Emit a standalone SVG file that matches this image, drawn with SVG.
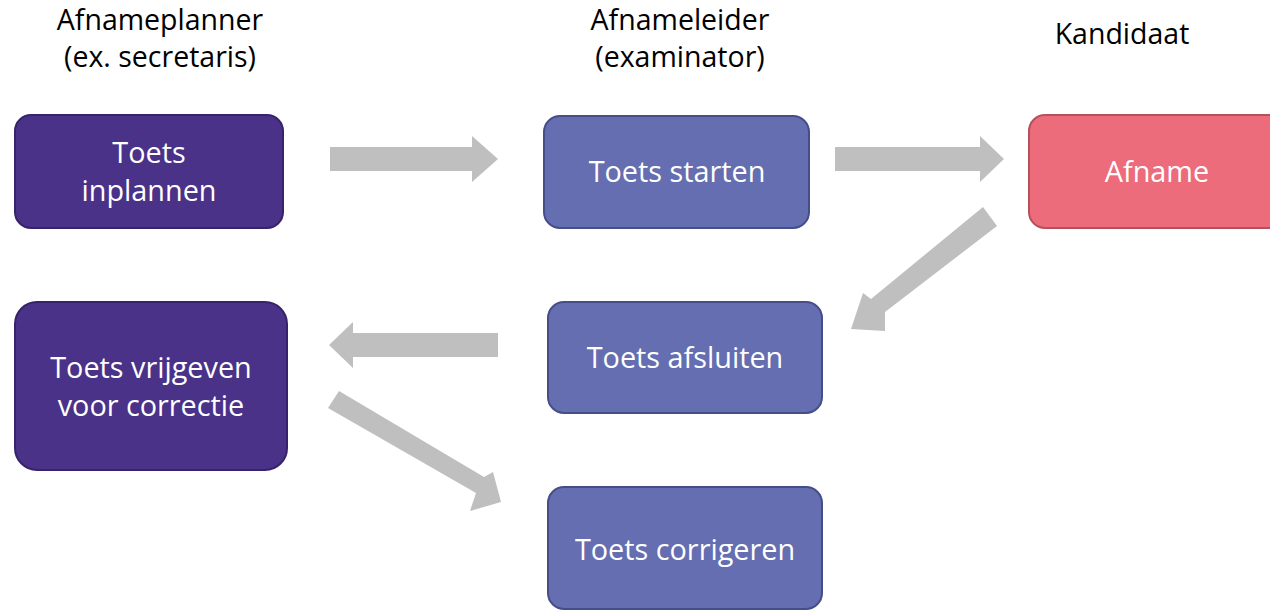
<svg xmlns="http://www.w3.org/2000/svg" width="1270" height="612" viewBox="0 0 1270 612">
<style>
.bg{fill:#ffffff}
.hdr{font-family:"Open Sans","Noto Sans",sans-serif;font-size:28.5px;fill:#000000;text-anchor:middle}
.lbl{font-family:"Open Sans","Noto Sans",sans-serif;font-size:28.8px;fill:#ffffff;text-anchor:middle}
.dark{fill:#4a3289;stroke:#36236b;stroke-width:2}
.blue{fill:#646eb0;stroke:#454e88;stroke-width:2}
.pink{fill:#ec6c7c;stroke:#b5505d;stroke-width:2}
.arr{fill:#bfbfbf}
</style>
<rect class="bg" x="0" y="0" width="1270" height="612"/>
<g id="headers">
<text class="hdr" x="160" y="30">Afnameplanner</text>
<text class="hdr" x="160" y="67">(ex. secretaris)</text>
<text class="hdr" x="680" y="30">Afnameleider</text>
<text class="hdr" x="680" y="67">(examinator)</text>
<text class="hdr" x="1122" y="44">Kandidaat</text>
</g>
<g id="connectors">
<polygon class="arr" points="330,147 472,147 472,136 498,159 472,182 472,171 330,171"/>
<polygon class="arr" points="835,147 980,147 980,136 1004,159 980,182 980,171 835,171"/>
<polygon class="arr" points="983,207 997,226 885,312 885,331 851,329 863,293 871,299"/>
<polygon class="arr" points="498,333 498,357 353,357 353,368 329,345 353,322 353,333"/>
<polygon class="arr" points="339,391 328,408 476,493 470,511 501,502 493,472 484,477"/>
</g>
<g id="n1"><rect class="dark" x="15" y="115" width="268" height="113" rx="16"/>
<text class="lbl" x="149" y="163">Toets</text><text class="lbl" x="149" y="201">inplannen</text></g>
<g id="n2"><rect class="blue" x="544" y="116" width="265" height="112" rx="16"/>
<text class="lbl" x="677" y="182">Toets starten</text></g>
<g id="n3"><rect class="pink" x="1029" y="115" width="260" height="113" rx="16"/>
<text class="lbl" x="1157" y="182">Afname</text></g>
<g id="n4"><rect class="blue" x="548" y="302" width="274" height="111" rx="16"/>
<text class="lbl" x="685" y="368">Toets afsluiten</text></g>
<g id="n5"><rect class="dark" x="15" y="302" width="272" height="168" rx="22"/>
<text class="lbl" x="151" y="378">Toets vrijgeven</text><text class="lbl" x="151" y="416">voor correctie</text></g>
<g id="n6"><rect class="blue" x="548" y="487" width="274" height="122" rx="16"/>
<text class="lbl" x="685" y="560">Toets corrigeren</text></g>
</svg>
